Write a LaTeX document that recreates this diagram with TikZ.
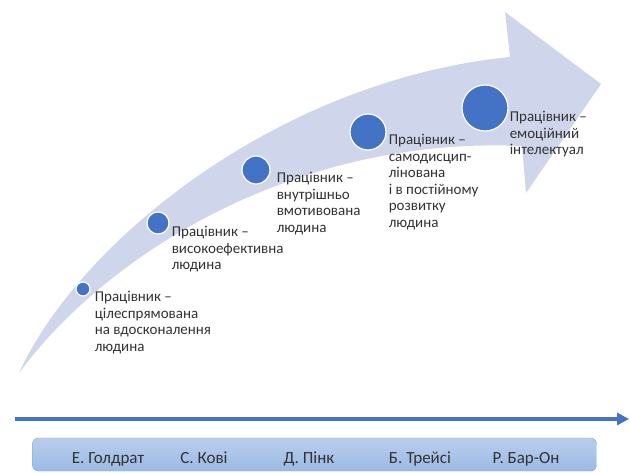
\documentclass[tikz,border=0pt]{standalone}
\usepackage{fontspec}
\setmainfont{Carlito}
\usepackage{xcolor}
\usepackage{tikz}
\usetikzlibrary{arrows.meta,positioning}

\definecolor{bandblue}{RGB}{207,213,234}
\definecolor{dotblue}{RGB}{68,114,196}
\definecolor{labelgray}{RGB}{50,50,50}
\definecolor{boxtop}{RGB}{186,206,237}
\definecolor{boxbottom}{RGB}{155,186,228}
\definecolor{boxline}{RGB}{125,163,218}

\begin{document}
\begin{tikzpicture}[
        x=1pt,y=-1pt,
        dot/.style={circle,fill=dotblue,draw=white,line width=1.2pt,inner sep=0pt},
        worker/.style={anchor=north west,align=left,inner sep=0pt,text=labelgray,font=\fontsize{15}{16.6}\selectfont},
        author/.style={anchor=base,inner sep=0pt,text=labelgray,font=\fontsize{17}{20}\selectfont},
        namebox/.style={draw=boxline,rounded corners=6pt,top color=boxtop,bottom color=boxbottom,minimum width=564pt,minimum height=33pt},
        axis/.style={-{Triangle[length=12pt,width=12pt]},line width=3.5pt,dotblue}
    ]
        \useasboundingbox (0,0) rectangle (630,473);

        % curved arrow behind the steps
        \fill[bandblue] (19,373) .. controls (80,240) and (280,80) .. (510,57)
            -- (505,12) -- (601,84) -- (526,193) -- (522,146)
            .. controls (300,136) and (110,250) .. (19,373) -- cycle;

        \node[dot,minimum size=14pt] (c1) at (83,289) {};
        \node[dot,minimum size=22pt] (c2) at (158,223) {};
        \node[dot,minimum size=28pt] (c3) at (256,170) {};
        \node[dot,minimum size=36pt] (c4) at (368,132) {};
        \node[dot,minimum size=46pt] (c5) at (485,108) {};

        \node[worker,xshift=4pt,yshift=-2pt] (w1) at (c1.east) {Працівник –\\цілеспрямована\\на вдосконалення\\людина};
        \node[worker,xshift=2pt,yshift=-3pt] (w2) at (c2.east) {Працівник –\\високоефективна\\людина};
        \node[worker,xshift=6pt,yshift=-2pt] (w3) at (c3.east) {Працівник –\\внутрішньо\\вмотивована\\людина};
        \node[worker,xshift=2pt,yshift=-2pt] (w4) at (c4.east) {Працівник –\\самодисцип-\\лінована\\і в постійному\\розвитку\\людина};
        \node[worker,xshift=1pt,yshift=-3pt] (w5) at (c5.east) {Працівник –\\емоційний\\інтелектуал};

        % time axis and authors
        \coordinate (axisstart) at (15,419);
        \coordinate (axisend) at (629,419);
        \draw[axis] (axisstart) -- (axisend);

        \node[namebox] (names) at (314.5,454.5) {};
        \node[author] (goldratt) at (108,463) {Е. Голдрат};
        \node[author] (covey) at (204,463) {С. Кові};
        \node[author] (pink) at (309,463) {Д. Пінк};
        \node[author] (tracy) at (420,463) {Б. Трейсі};
        \node[author] (baron) at (526,463) {Р. Бар-Он};
    \end{tikzpicture}
\end{document}
